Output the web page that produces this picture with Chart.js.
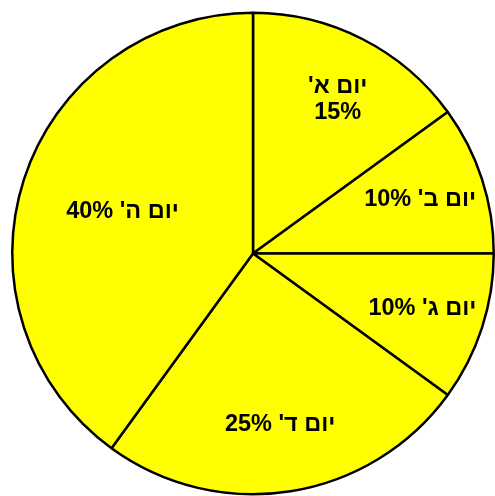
<!DOCTYPE html>
<html>
<head>
<meta charset="utf-8">
<script src="https://cdn.jsdelivr.net/npm/chart.js@4.4.1/dist/chart.umd.min.js"></script>
<style>
  html, body { margin: 0; padding: 0; background: #fff; }
  #wrap { width: 495px; height: 496px; }
</style>
</head>
<body>
<div id="wrap"><canvas id="graph"></canvas></div>
<script>
// days and their shares
const days = ["יום א'", "יום ב'", "יום ג'", "יום ד'", "יום ה'"];
const shares = [15, 10, 10, 25, 40];

// how far out each label sits (fraction of radius)
const labelRadius = [0.72, 0.73, 0.74, 0.72, 0.57];

const sliceLabels = {
    id: 'sliceLabels',
    afterDatasetsDraw(chart) {
        const ctx = chart.ctx;
        const arcs = chart.getDatasetMeta(0).data;
        ctx.save();
        ctx.font = 'bold 23.5px "Liberation Sans", Arial, sans-serif';
        ctx.fillStyle = '#000';
        ctx.textAlign = 'center';
        ctx.textBaseline = 'middle';
        ctx.direction = 'rtl';
        arcs.forEach((arc, i) => {
            const p = arc.getProps(['x', 'y', 'startAngle', 'endAngle', 'outerRadius'], true);
            const mid = (p.startAngle + p.endAngle) / 2;
            const r = p.outerRadius * labelRadius[i];
            const x = p.x + Math.cos(mid) * r;
            const y = p.y + Math.sin(mid) * r;
            if (i == 0) {
                // first one is split over two lines
                ctx.fillText(days[i], x + 6, y - 13);
                ctx.fillText(shares[i] + '%', x + 6, y + 13);
            } else {
                ctx.fillText(days[i] + ' ' + shares[i] + '%', x, y);
            }
        });
        ctx.restore();
    }
};

new Chart(document.querySelector('#graph'), {
    type: 'pie',
    data: {
        labels: days,
        datasets: [{
            data: shares,
            backgroundColor: '#ffff00',
            borderColor: '#000',
            borderWidth: 2.5,
            borderAlign: 'center'
        }]
    },
    options: {
        responsive: true,
        maintainAspectRatio: false,
        animation: false,
        layout: { padding: { left: 11, top: 11, right: 0, bottom: 0 } },
        plugins: {
            legend: { display: false },
            tooltip: { enabled: false }
        }
    },
    plugins: [sliceLabels]
});
</script>
</body>
</html>
